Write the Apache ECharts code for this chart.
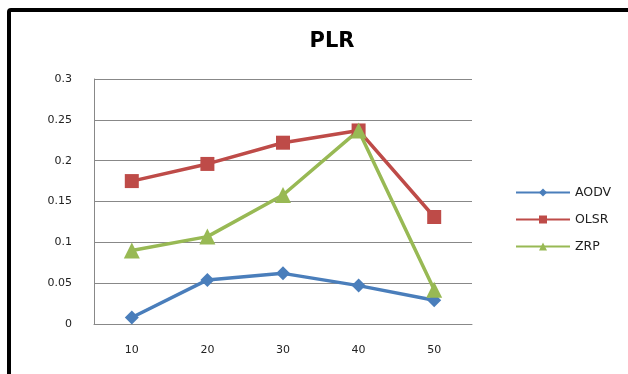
<!DOCTYPE html>
<html>
<head>
<meta charset="utf-8">
<script src="https://cdn.jsdelivr.net/npm/echarts@6/dist/echarts.min.js"></script>
<style>
  html, body { margin: 0; padding: 0; background: #fff; }
  #chart { width: 628px; height: 374px; }
</style>
</head>
<body>
<div id="chart"></div>
<script>
const categories = ['10', '20', '30', '40', '50']
const aodv = [0.008, 0.054, 0.062, 0.047, 0.029]
const olsr = [0.175, 0.196, 0.222, 0.237, 0.131]
const zrp = [0.09, 0.107, 0.158, 0.237, 0.042]

const font = 'DejaVu Sans'
const chart = echarts.init(document.getElementById('chart'))

const lineSeries = (name, data, color, symbol, size) => ({
  name,
  type: 'line',
  data,
  symbol,
  symbolSize: size,
  lineStyle: { color, width: 3.5 },
  itemStyle: { color },
  emphasis: { disabled: true },
})

chart.setOption({
  animation: false,
  title: {
    text: 'PLR',
    left: 327,
    top: 26,
    textAlign: 'center',
    textStyle: { fontFamily: font, fontSize: 21, fontWeight: 'bold', color: '#000' },
  },
  grid: { left: 94, right: 156, top: 79, bottom: 50 },
  legend: {
    orient: 'vertical',
    left: 510,
    top: 181,
    itemWidth: 54,
    itemHeight: 10,
    itemGap: 14,
    textStyle: { fontFamily: font, fontSize: 12.5, color: '#222' },
    data: ['AODV', 'OLSR', 'ZRP'],
  },
  xAxis: {
    type: 'category',
    data: categories,
    boundaryGap: true,
    axisLine: { lineStyle: { color: '#888', width: 1 } },
    axisTick: { show: false },
    axisLabel: { fontFamily: font, fontSize: 11, color: '#222', margin: 21 },
  },
  yAxis: {
    type: 'value',
    min: 0,
    max: 0.3,
    interval: 0.05,
    axisLine: { show: true, lineStyle: { color: '#888', width: 1 } },
    axisTick: { show: false },
    axisLabel: { fontFamily: font, fontSize: 11, color: '#222', margin: 22 },
    splitLine: { lineStyle: { color: '#888', width: 1 } },
  },
  graphic: [{
    type: 'rect',
    shape: { x: 9, y: 10, width: 700, height: 450, r: 2 },
    style: { fill: 'none', stroke: '#000', lineWidth: 4 },
    z: 10,
  }],
  series: [
    lineSeries('AODV', aodv, '#4a7ebb', 'diamond', 14),
    lineSeries('OLSR', olsr, '#be4b48', 'rect', 14),
    lineSeries('ZRP', zrp, '#98b954', 'triangle', 16),
  ],
})
</script>
</body>
</html>
